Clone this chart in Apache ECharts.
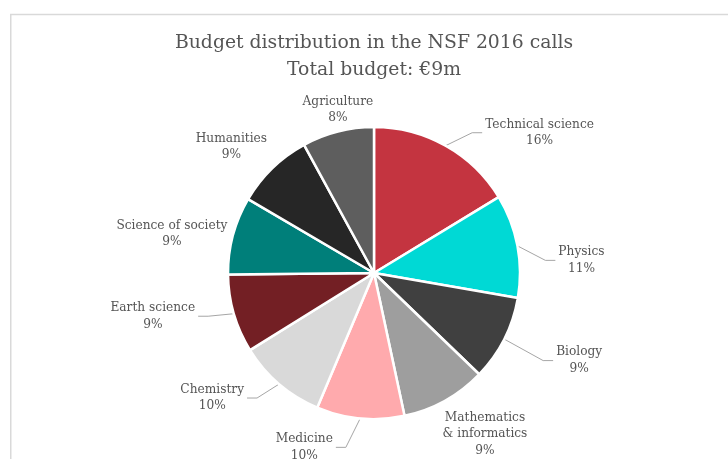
<!DOCTYPE html>
<html>
<head>
<meta charset="utf-8">
<script src="https://cdn.jsdelivr.net/npm/echarts@6/dist/echarts.min.js"></script>
<style>
  html, body { margin: 0; padding: 0; background: #ffffff; }
  #chart { width: 728px; height: 459px; }
</style>
</head>
<body>
<div id="chart"></div>
<script>
// Fields funded in the NSF 2016 calls, clockwise from 12 o'clock
const fields = [
  'Technical science', 'Physics', 'Biology', 'Mathematics\n& informatics',
  'Medicine', 'Chemistry', 'Earth science', 'Science of society',
  'Humanities', 'Agriculture'
];
// Share of the €9m total budget, in percent
const shares = [16.3, 11.45, 9.45, 9.45, 9.7, 9.8, 8.7, 8.6, 8.6, 7.95];
const sliceColors = [
  '#C43440', '#00D9D5', '#404040', '#9E9E9E', '#FFAAAD',
  '#D9D9D9', '#731F24', '#007F7A', '#262626', '#5E5E5E'
];
// Where each label block sits, relative to the outer edge point of its slice
const labelOffsets = [
  [94, -13], [64, 14.5], [75, 21.5], [40, 33.5], [-56, 29],
  [-67, 14], [-81, 2.5], [-61, -1.5], [-41, -21.5], [0, -21.5]
];
// Labels placed right next to their slice, without a leader line
const noLeader = [false, false, false, true, false, false, false, true, true, true];

const FONT = 'DejaVu Serif';
const TEXT = '#555555';

const chart = echarts.init(document.getElementById('chart'), null, { renderer: 'canvas' });

chart.setOption({
  backgroundColor: '#ffffff',
  animation: false,
  title: {
    text: 'Budget distribution in the NSF 2016 calls\nTotal budget: €9m',
    left: 374,
    top: 30,
    padding: 0,
    textAlign: 'center',
    textStyle: {
      fontFamily: FONT,
      fontSize: 18.8,
      fontWeight: 'normal',
      color: TEXT,
      lineHeight: 27
    }
  },
  graphic: [{
    type: 'rect',
    silent: true,
    shape: { x: 10.75, y: 14.5, width: 900, height: 700 },
    style: { fill: 'none', stroke: '#D9D9D9', lineWidth: 1.5 }
  }],
  series: [{
    type: 'pie',
    center: [374, 273],
    radius: 146,
    startAngle: 90,
    clockwise: true,
    avoidLabelOverlap: false,
    itemStyle: { borderColor: '#ffffff', borderWidth: 2.5 },
    label: {
      show: true,
      position: 'outside',
      color: TEXT,
      fontFamily: FONT,
      fontSize: 12.2,
      lineHeight: 16.5,
      padding: [0, 3],
      formatter: function (p) {
        return '{c|' + p.name + '}\n{c|' + Math.round(p.percent) + '%}';
      },
      rich: {
        c: { align: 'center', color: TEXT, fontFamily: FONT, fontSize: 12.2, lineHeight: 16.5 }
      }
    },
    labelLine: {
      show: true,
      length: 10,
      length2: 10,
      lineStyle: { color: '#A6A6A6', width: 1 }
    },
    labelLayout: function (p) {
      const anchor = p.labelLinePoints[0];
      const off = labelOffsets[p.dataIndex];
      return {
        x: anchor[0] + off[0],
        y: anchor[1] + off[1],
        align: 'center',
        verticalAlign: 'middle'
      };
    },
    data: fields.map(function (name, i) {
      const item = {
        name: name,
        value: shares[i],
        itemStyle: { color: sliceColors[i] }
      };
      if (noLeader[i]) {
        item.labelLine = { lineStyle: { color: 'rgba(0,0,0,0)' } };
      }
      return item;
    })
  }]
});
</script>
</body>
</html>
